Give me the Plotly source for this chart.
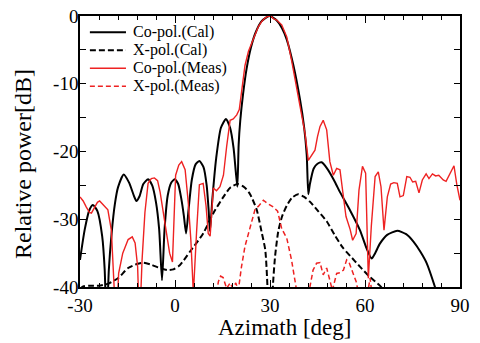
import plotly.graph_objects as go

# Co-polarisation, calculated pattern (azimuth deg, relative power dB)
copol_cal_az = [-30, -28.5, -27, -25.9, -24.5, -23, -22.2, -21.6, -20.9, -20, -19, -18, -16.2,
                -14.5, -13, -12.2, -11.2, -10, -8.5, -7.2, -6, -5, -4.1, -3.3, -2.3, -1.2,
                -0.1, 1, 2, 2.8, 3.5, 4.3, 5.3, 6.5, 7.7, 9, 10, 10.6, 11.05, 11.8, 13, 14.5,
                16.1, 17.4, 18.5, 19.2, 19.7, 20.1, 20.6, 21.5, 22.6, 24, 25.5, 27.3, 29.8,
                32, 33.8, 35.3, 37.4, 39.5, 40.8, 41.6, 42.1, 42.6, 43.8, 45, 46.3, 48, 50.5,
                52.1, 55.3, 58.4, 60.5, 62.1, 63.2, 64.7, 67, 70.2, 73, 75.3, 77.5, 79.5,
                82.1, 84]
copol_cal_db = [-36, -31.5, -28.6, -27.9, -28.8, -32.5, -37.5, -46, -37.5, -32, -27.8, -25.3,
                -23.4, -24.6, -26.5, -27.3, -26.6, -24.8, -24.1, -25, -27.5, -31.5, -39, -31.5,
                -26.5, -24.6, -24.1, -24.8, -27, -29.5, -32.1, -28.5, -24.2, -21.9, -21.4,
                -22.3, -25, -28.5, -31.8, -27, -21, -16.5, -15.2, -16.5, -19.5, -23, -25.2,
                -19, -15.5, -11.5, -7.8, -4.6, -2.4, -0.8, 0, -0.6, -1.8, -3.5, -7.3, -12.4,
                -16.5, -20.5, -26.3, -24.8, -22.5, -21.8, -21.6, -22.5, -24.5, -26, -28.7,
                -31.6, -34.3, -35.8, -35, -33.6, -32.3, -31.7, -32.2, -33.3, -34.8, -36.5,
                -40, -43]

# Cross-polarisation, calculated pattern
xpol_cal_az = [-30, -29, -27, -24, -21, -18, -14.8, -12, -10, -7.5, -5.4, -2.5, -0.5, 1.5,
               4.7, 8.9, 12.1, 15.3, 17.5, 19.8, 22, 23.7, 25.8, 27.4, 28.5, 29.2, 30, 30.9,
               31.6, 32.6, 33.8, 35.3, 37, 38.9, 40.8, 42.6, 45, 47.9, 50.5, 53, 55.3, 58.4,
               61.5, 64.7, 67]
xpol_cal_db = [-40.3, -39.9, -39.8, -39.8, -39.5, -38.7, -37.2, -36.6, -36.4, -36.7, -37.1,
               -37.5, -37.4, -36.8, -34.8, -32.1, -29.1, -26.7, -25.3, -24.8, -25.3, -26.3,
               -28.6, -32, -34.5, -40, -55, -40, -35.5, -31.8, -29.6, -28, -26.8, -26.3,
               -26.7, -27.4, -28.7, -30.3, -32.4, -34.2, -35.4, -37, -38.5, -39.8, -41]

# Co-polarisation, measured pattern
copol_meas_az = [-30, -29, -28, -27, -26.4, -25.5, -24.5, -23.8, -22.9, -21.2, -20.1, -19.2,
                 -18.6, -17.8, -16.5, -14.8, -13.5, -12.6, -11.8, -11.2, -10.4, -9.5, -8.5,
                 -7.5, -6.5, -5.5, -4.7, -3.7, -2.7, -1.7, -0.8, 0.2, 1.2, 2.1, 3.2, 4.2, 5,
                 5.8, 6.8, 7.7, 8.9, 9.8, 10.5, 11.1, 12.1, 13.1, 14.2, 15.3, 16.3, 17.4, 18.4,
                 19.5, 20.3, 21, 22.1, 23.2, 24.2, 25.3, 26.3, 27.4, 28.4, 29.5, 30.5, 31.1,
                 32.1, 33.7, 35.3, 36.8, 37.9, 38.9, 40, 41.05, 42.1, 43.2, 44.2, 45, 45.8,
                 46.8, 47.9, 48.9, 50, 51.05, 52.1, 53, 54, 55.3, 56.1, 57.2, 58.1, 59.2,
                 60.2, 61.05, 62, 63.2, 64.2, 65.05, 66, 67.05, 68.1, 69.1, 70.2, 71.05, 72.1,
                 73.2, 74.2, 75.05, 76, 77.05, 78.1, 79.3, 80.2, 81.3, 82.3, 83.3, 84.7, 85.6,
                 87.2, 88.1, 89, 90]
copol_meas_db = [-26.7, -27.3, -28.2, -29, -29.1, -28.3, -27.5, -27.3, -27.8, -28.6, -31.6,
                 -38, -46, -38, -35, -33, -32.6, -33.5, -37, -46, -36, -29, -24.7, -24, -23.9,
                 -24.3, -26, -29, -32, -35, -36.3, -23.5, -22, -21.5, -22.7, -27.6, -33, -41,
                 -32, -24.9, -24.7, -28, -32.1, -32.5, -25.4, -25.8, -25.2, -23.5, -19.3,
                 -15.4, -15.2, -14.6, -13.8, -11.5, -7.3, -5.2, -4, -2.8, -1.6, -0.8, -0.3, 0,
                 -0.1, -0.4, -0.6, -1.3, -3.1, -6.5, -9.2, -11.9, -14.5, -17.3, -21.3, -20.6,
                 -19.8, -17.8, -16.3, -15.4, -16.8, -21.5, -23.5, -22.5, -22.7, -26, -29.6,
                 -31.5, -33.1, -32.1, -25.7, -22.2, -23.2, -38.7, -31, -23.7, -23, -25.2,
                 -31.6, -26.7, -24.8, -24.6, -24.7, -26.7, -26.5, -23.7, -23.8, -24.5, -24.4,
                 -26.1, -24.2, -23.3, -24, -23.3, -23.6, -23.5, -24.2, -24.4, -23, -22.1,
                 -24.9, -27.2]

# Cross-polarisation, measured pattern
xpol_meas_az = [12.8, 13.7, 14.4, 15.2, 16.3, 17.4, 18.3, 19.2, 20, 21, 22.1, 23.7, 25.3,
                26.3, 27.9, 29, 30, 31.05, 32.4, 33.7, 35.3, 36.8, 38.4, 41, 42.6, 43.6, 44.7,
                45.8, 46.8, 47.9, 48.9, 49.7, 51.05, 52.1, 53.2, 54.2, 55, 55.8, 56.5, 57.2,
                58, 60.8, 61.6, 62.2]
xpol_meas_db = [-42, -39.2, -38.4, -38.6, -40.2, -39.4, -40.2, -39.4, -40.5, -37, -34, -31.1,
                -28.5, -28.1, -27.2, -27.6, -27.9, -28.2, -28.8, -31.4, -32.8, -36, -40.5,
                -42, -40, -37.5, -36.5, -36.4, -38.2, -37.2, -39, -40.5, -38, -37.9, -37.5,
                -36, -36.4, -37.5, -38.5, -39.2, -41, -41, -38.7, -41]

x_ticks = [-30, 0, 30, 60, 90]
x_ticktext = ["-30", "0", "30", "60", "90"]
y_ticks = [-40, -30, -20, -10, 0]
y_ticktext = ["-40", "-30", "-20", "-10", "0"]
x_title = "Azimath [deg]"
y_title = "Relative power[dB]"

FONT = "Liberation Serif, Times New Roman, Times, serif"
RED = "#ee2222"

series = [
    ("Co-pol.(Cal)", copol_cal_az, copol_cal_db,
     dict(color="black", width=2, shape="spline", smoothing=0.6)),
    ("X-pol.(Cal)", xpol_cal_az, xpol_cal_db,
     dict(color="black", width=2, dash="6px,3px", shape="spline", smoothing=0.6)),
    ("Co-pol.(Meas)", copol_meas_az, copol_meas_db, dict(color=RED, width=1.4)),
    ("X-pol.(Meas)", xpol_meas_az, xpol_meas_db, dict(color=RED, width=1.5, dash="5px,3px")),
]

fig = go.Figure()
for name, xs, ys, line in series:
    fig.add_trace(go.Scatter(x=xs, y=ys, mode="lines", name=name, line=line,
                             showlegend=False))

# Compact key in the upper-left corner: a line sample followed by its label per row
key_rows_y = [0.940, 0.8735, 0.807, 0.7405]
for (name, _, _, line), ky in zip(series, key_rows_y):
    fig.add_shape(type="line", xref="paper", yref="paper", x0=0.026, x1=0.121, y0=ky, y1=ky,
                  line=dict(color=line["color"], width=line["width"],
                            dash=line.get("dash", "solid")))
    fig.add_annotation(xref="paper", yref="paper", x=0.136, y=ky, xanchor="left",
                       yanchor="middle", text=name, showarrow=False, borderpad=0,
                       font=dict(family=FONT, size=16, color="black"))

# Axis titles
fig.add_annotation(xref="paper", yref="paper", x=0.539, y=-0.101, xanchor="center",
                   yanchor="top", text=x_title, showarrow=False, borderpad=0,
                   font=dict(family=FONT, size=23, color="black"))
fig.add_annotation(xref="paper", yref="paper", x=-0.15, y=0.454, xanchor="center",
                   yanchor="middle", text=y_title, textangle=-90, showarrow=False,
                   borderpad=0, font=dict(family=FONT, size=24, color="black"))

axis_common = dict(showgrid=False, zeroline=False, showline=True, linecolor="black",
                   linewidth=1.5, mirror="ticks", ticks="inside", tickcolor="black",
                   tickwidth=1, tickfont=dict(family=FONT, size=19, color="black"))

fig.update_xaxes(range=[-30, 90], tickvals=x_ticks, ticktext=x_ticktext, ticklen=7,
                 minor=dict(dtick=6, tick0=-30, ticks="inside", ticklen=4, tickcolor="black"),
                 **axis_common)
fig.update_yaxes(range=[-40, 0], tickvals=y_ticks, ticktext=y_ticktext, ticklen=6,
                 ticklabelstandoff=-4,
                 minor=dict(dtick=5, tick0=0, ticks="inside", ticklen=6, tickcolor="black"),
                 **axis_common)

fig.update_layout(
    width=480, height=343,
    margin=dict(l=80, r=20, t=16, b=56, autoexpand=False),
    paper_bgcolor="white", plot_bgcolor="white",
    showlegend=False,
)

fig.write_html("out.html")
